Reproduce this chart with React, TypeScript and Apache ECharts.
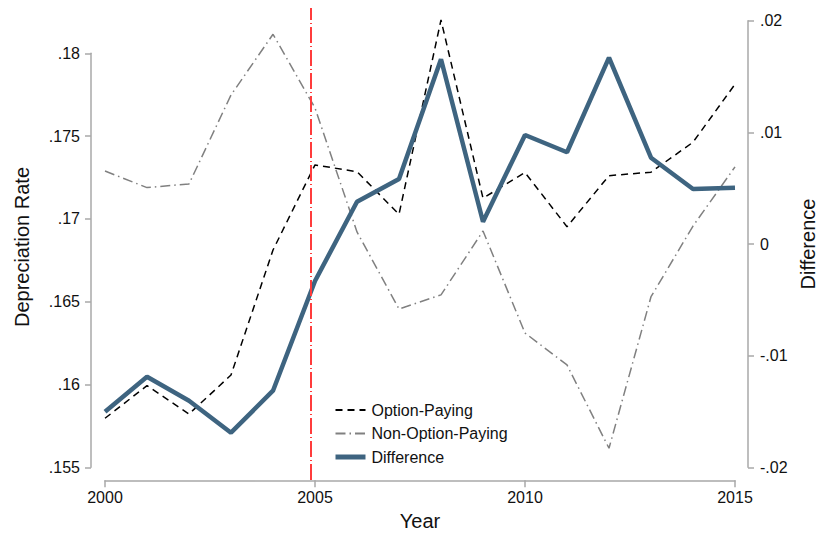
import React, { useEffect, useRef } from "react";
import * as echarts from "echarts";

const years = [2000, 2001, 2002, 2003, 2004, 2005, 2006, 2007, 2008, 2009, 2010, 2011, 2012, 2013, 2014, 2015];
const optionPaying = [0.15796, 0.15993, 0.15822, 0.16057, 0.16812, 0.17326, 0.17285, 0.17028, 0.18201, 0.17125, 0.1728, 0.16953, 0.17261, 0.17282, 0.17463, 0.17813];
const nonOptionPaying = [0.17289, 0.17189, 0.17211, 0.17748, 0.18115, 0.1767, 0.16921, 0.16456, 0.16541, 0.16927, 0.16311, 0.16118, 0.15615, 0.1653, 0.16957, 0.17314];
const difference = [-0.01502, -0.011885, -0.014035, -0.0169, -0.013139, -0.003313, 0.00379, 0.005823, 0.016545, 0.001998, 0.009764, 0.008215, 0.016688, 0.007731, 0.004927, 0.005044];
const eventYear = 2004.9;
const seriesNames = ["Option-Paying", "Non-Option-Paying", "Difference"];

const FONT = "Liberation Sans, Arial, Helvetica, sans-serif";

function fmt(v: number, d: number): string {
  let s = v.toFixed(d);
  if (s.indexOf(".") >= 0) s = s.replace(/\.?0+$/, "");
  s = s.replace(/^(-?)0\./, "$1.");
  if (s === "-0") s = "0";
  return s;
}

export default function App() {
  const ref = useRef<HTMLDivElement>(null);
  useEffect(() => {
    if (!ref.current) return;
    const chart = echarts.init(ref.current, undefined, { renderer: "svg" });
    const axisColor = "#a8a8a8";
    const labelStyle = { color: "#111", fontSize: 16, fontFamily: FONT };
    const gridBase = { left: 105, right: 84, bottom: 65.7, containLabel: false, outerBoundsMode: "none" };
    chart.setOption({
      animation: false,
      backgroundColor: "#fff",
      grid: [
        { ...gridBase, top: 53.3 },
        { ...gridBase, top: 20.7 },
        { ...gridBase, top: 8, bottom: 53 },
      ],
      xAxis: [
        {
          type: "value", gridIndex: 0, min: 2000, max: 2015, interval: 5, offset: 13,
          name: "Year", nameLocation: "middle", nameGap: 31,
          nameTextStyle: { color: "#111", fontSize: 20, fontFamily: FONT },
          axisLine: { show: true, lineStyle: { color: axisColor, width: 1.5 } },
          axisTick: { show: true, length: 7, lineStyle: { color: axisColor, width: 1.5 } },
          axisLabel: { ...labelStyle, margin: 9, formatter: (v: number) => String(v) },
          splitLine: { show: false },
        },
        { type: "value", gridIndex: 1, min: 2000, max: 2015, show: false },
        { type: "value", gridIndex: 2, min: 2000, max: 2015, show: false },
      ],
      yAxis: [
        {
          type: "value", gridIndex: 0, min: 0.155, max: 0.18, interval: 0.005, offset: 14,
          axisLine: { show: true, lineStyle: { color: axisColor, width: 1.5 } },
          axisTick: { show: true, length: 6, lineStyle: { color: axisColor, width: 1.5 } },
          axisLabel: { ...labelStyle, margin: 11, formatter: (v: number) => fmt(v, 3) },
          splitLine: { show: false },
        },
        {
          type: "value", gridIndex: 1, position: "right", min: -0.02, max: 0.02, interval: 0.01, offset: 13,
          name: "Difference", nameLocation: "middle", nameGap: 50, nameRotate: 90,
          nameTextStyle: { color: "#111", fontSize: 20, fontFamily: FONT },
          axisLine: { show: true, lineStyle: { color: axisColor, width: 1.5 } },
          axisTick: { show: true, length: 6, lineStyle: { color: axisColor, width: 1.5 } },
          axisLabel: { ...labelStyle, margin: 12, formatter: (v: number) => fmt(v, 2) },
          splitLine: { show: false },
        },
        { type: "value", gridIndex: 2, min: 0, max: 1, show: false },
      ],
      legend: {
        data: [
          { name: seriesNames[0] },
          { name: seriesNames[1] },
          { name: seriesNames[2], lineStyle: { width: 5 } },
        ],
        orient: "vertical",
        left: 328,
        top: 397,
        itemWidth: 30,
        itemHeight: 14,
        itemGap: 7.5,
        itemStyle: { opacity: 0 },
        textStyle: { color: "#111", fontSize: 16, fontFamily: FONT, padding: [0, 0, 0, 1] },
      },
      graphic: [
        {
          type: "text",
          x: 22,
          y: 247,
          rotation: Math.PI / 2,
          style: {
            text: "Depreciation Rate",
            fill: "#111",
            fontSize: 20,
            fontFamily: FONT,
            align: "center",
            verticalAlign: "middle",
          },
        },
      ],
      series: [
        {
          type: "line",
          xAxisIndex: 2,
          yAxisIndex: 2,
          data: [],
          silent: true,
          markLine: {
            silent: true,
            symbol: "none",
            label: { show: false },
            lineStyle: { color: "#ff3c3c", width: 2, type: [16, 3, 1, 3] },
            data: [{ xAxis: eventYear }],
          },
          z: 1,
        },
        {
          name: seriesNames[0],
          type: "line",
          xAxisIndex: 0,
          yAxisIndex: 0,
          clip: false,
          symbol: "none",
          data: years.map((y, i) => [y, optionPaying[i]]),
          lineStyle: { color: "#000", width: 1.5, type: [7, 5] },
          itemStyle: { color: "#000" },
          z: 3,
        },
        {
          name: seriesNames[1],
          type: "line",
          xAxisIndex: 0,
          yAxisIndex: 0,
          clip: false,
          symbol: "none",
          data: years.map((y, i) => [y, nonOptionPaying[i]]),
          lineStyle: { color: "#808080", width: 1.5, type: [10, 4, 1.5, 4] },
          itemStyle: { color: "#808080" },
          z: 2,
        },
        {
          name: seriesNames[2],
          type: "line",
          xAxisIndex: 1,
          yAxisIndex: 1,
          clip: false,
          symbol: "none",
          data: years.map((y, i) => [y, difference[i]]),
          lineStyle: { color: "#3e6480", width: 4.5 },
          itemStyle: { color: "#3e6480" },
          z: 4,
        },
      ],
    });
    return () => chart.dispose();
  }, []);
  return <div ref={ref} style={{ width: 819, height: 533, position: "absolute", left: 0, top: 0 }} />;
}
